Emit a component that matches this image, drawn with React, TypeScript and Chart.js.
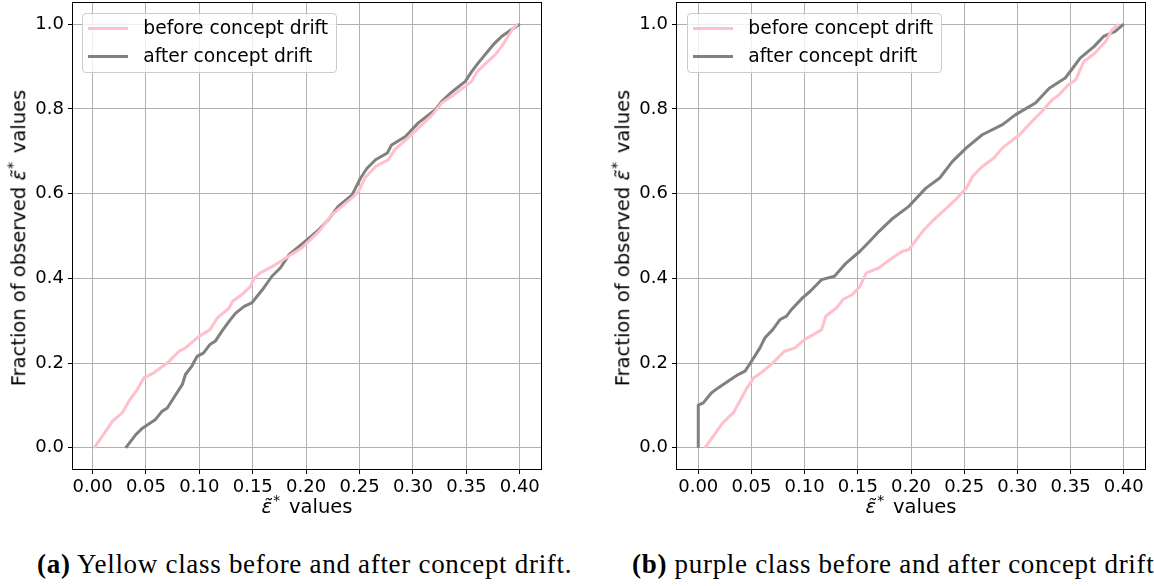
import React, { useEffect, useRef } from "react";
import { Chart, registerables } from "chart.js";

Chart.register(...registerables);

// ---------- data ----------
const xTickValues = [0, 0.05, 0.1, 0.15, 0.2, 0.25, 0.3, 0.35, 0.4];
const yTickValues = [0, 0.2, 0.4, 0.6, 0.8, 1.0];
const legendLabels = ["before concept drift", "after concept drift"];
const captionTags = ["(a)", "(b)"];
const captionTexts = [
  " Yellow class before and after concept drift.",
  " purple class before and after concept drift.",
];

// (a) yellow class
const yellowBeforeX = [0.0016, 0.0187, 0.028, 0.034, 0.042, 0.048, 0.056, 0.07, 0.081, 0.087, 0.0996, 0.11, 0.117, 0.128, 0.131, 0.14, 0.148, 0.151, 0.157, 0.171, 0.181, 0.196, 0.212, 0.224, 0.243, 0.249, 0.255, 0.265, 0.277, 0.283, 0.297, 0.318, 0.327, 0.336, 0.355, 0.36, 0.377, 0.383, 0.394, 0.398];
const yellowBeforeY = [0, 0.063, 0.083, 0.11, 0.138, 0.165, 0.175, 0.2, 0.228, 0.236, 0.263, 0.279, 0.307, 0.33, 0.346, 0.362, 0.381, 0.399, 0.413, 0.432, 0.448, 0.472, 0.511, 0.55, 0.59, 0.605, 0.637, 0.664, 0.68, 0.704, 0.735, 0.786, 0.814, 0.829, 0.865, 0.888, 0.928, 0.947, 0.991, 1.0];
const yellowAfterX = [0.031, 0.0405, 0.047, 0.059, 0.065, 0.07, 0.078, 0.084, 0.087, 0.093, 0.098, 0.104, 0.11, 0.115, 0.121, 0.128, 0.134, 0.142, 0.149, 0.159, 0.168, 0.176, 0.184, 0.199, 0.212, 0.221, 0.23, 0.243, 0.251, 0.257, 0.265, 0.276, 0.28, 0.293, 0.305, 0.321, 0.327, 0.335, 0.349, 0.355, 0.361, 0.375, 0.383, 0.392, 0.4];
const yellowAfterY = [0, 0.031, 0.047, 0.067, 0.086, 0.094, 0.126, 0.149, 0.173, 0.193, 0.216, 0.224, 0.244, 0.252, 0.275, 0.299, 0.318, 0.334, 0.342, 0.373, 0.405, 0.425, 0.456, 0.487, 0.515, 0.539, 0.57, 0.597, 0.637, 0.66, 0.68, 0.696, 0.715, 0.735, 0.767, 0.798, 0.818, 0.837, 0.865, 0.888, 0.908, 0.951, 0.971, 0.987, 1.0];

// (b) purple class
const purpleBeforeX = [0.00625, 0.023, 0.033, 0.039, 0.045, 0.052, 0.059, 0.07, 0.081, 0.091, 0.1, 0.108, 0.116, 0.12, 0.13, 0.136, 0.145, 0.152, 0.158, 0.17, 0.18, 0.192, 0.198, 0.211, 0.22, 0.23, 0.242, 0.252, 0.258, 0.267, 0.278, 0.286, 0.302, 0.311, 0.323, 0.333, 0.339, 0.348, 0.355, 0.3625, 0.373, 0.383, 0.389, 0.395];
const purpleBeforeY = [0, 0.059, 0.083, 0.11, 0.138, 0.165, 0.177, 0.2, 0.228, 0.236, 0.256, 0.267, 0.279, 0.311, 0.33, 0.35, 0.362, 0.381, 0.413, 0.425, 0.444, 0.464, 0.468, 0.511, 0.535, 0.558, 0.586, 0.613, 0.641, 0.664, 0.684, 0.708, 0.739, 0.763, 0.794, 0.822, 0.833, 0.857, 0.869, 0.912, 0.932, 0.959, 0.987, 1.0];
const purpleAfterX = [0, 0, 0.0047, 0.0125, 0.019, 0.028, 0.0375, 0.044, 0.05, 0.058, 0.0625, 0.07, 0.077, 0.083, 0.0875, 0.098, 0.105, 0.116, 0.128, 0.139, 0.152, 0.161, 0.17, 0.183, 0.198, 0.214, 0.227, 0.239, 0.252, 0.267, 0.286, 0.298, 0.317, 0.33, 0.345, 0.352, 0.359, 0.372, 0.381, 0.392, 0.4];
const purpleAfterY = [0, 0.1006, 0.106, 0.13, 0.142, 0.157, 0.173, 0.181, 0.204, 0.236, 0.259, 0.279, 0.303, 0.311, 0.326, 0.354, 0.369, 0.397, 0.405, 0.436, 0.464, 0.487, 0.511, 0.542, 0.57, 0.613, 0.637, 0.676, 0.708, 0.739, 0.763, 0.786, 0.814, 0.849, 0.873, 0.896, 0.92, 0.947, 0.971, 0.983, 1.0];

// ---------- styling ----------
const PINK = "#ffc0cb";
const GRAY = "#808080";
const SANS = "'DejaVu Sans', sans-serif";
const SERIF = "'Liberation Serif', serif";
const CANVAS_W = 577;
const CANVAS_H = 530;

const toPoints = (xs: number[], ys: number[]) => xs.map((x, i) => ({ x, y: ys[i] }));

const framePlugin = {
  id: "frame",
  afterDraw(chart: any) {
    const { ctx, chartArea: a } = chart;
    ctx.save();
    ctx.strokeStyle = "#000";
    ctx.lineWidth = 1;
    const l = Math.round(a.left) - 0.5;
    const t = Math.round(a.top) - 0.5;
    const r = Math.round(a.right) + 0.5;
    const b = Math.round(a.bottom) + 0.5;
    ctx.strokeRect(l, t, r - l, b - t);
    ctx.restore();
  },
};

type PanelProps = {
  left: number;
  yAxisWidth: number;
  padRight: number;
  xMin: number;
  xMax: number;
  before: { x: number; y: number }[];
  after: { x: number; y: number }[];
};

function Panel({ left, yAxisWidth, padRight, xMin, xMax, before, after }: PanelProps) {
  const ref = useRef<HTMLCanvasElement>(null);
  useEffect(() => {
    if (!ref.current) return;
    const tickFont = { family: SANS, size: 18 };
    const grid = { color: "#b0b0b0", lineWidth: 1, tickColor: "#000", tickLength: 5, tickWidth: 1 };
    const chart = new Chart(ref.current, {
      type: "line",
      data: {
        datasets: [
          { label: legendLabels[0], data: before, borderColor: PINK, backgroundColor: PINK, borderWidth: 3, pointRadius: 0, tension: 0, fill: false, borderJoinStyle: "round" },
          { label: legendLabels[1], data: after, borderColor: GRAY, backgroundColor: GRAY, borderWidth: 3, pointRadius: 0, tension: 0, fill: false, borderJoinStyle: "round" },
        ],
      },
      options: {
        animation: false,
        responsive: false,
        events: [],
        layout: { padding: { left: 0, top: 3, right: padRight, bottom: 0 } },
        plugins: { legend: { display: false }, tooltip: { enabled: false }, title: { display: false } },
        scales: {
          x: {
            type: "linear",
            min: xMin,
            max: xMax,
            afterBuildTicks: (s: any) => {
              s.ticks = xTickValues.map((v) => ({ value: v }));
            },
            afterFit: (s: any) => {
              s.height = CANVAS_H - 469;
              s.paddingLeft = 0;
              s.paddingRight = 0;
            },
            ticks: { callback: (v: any) => Number(v).toFixed(2), font: tickFont, color: "#000", padding: 3, autoSkip: false, maxRotation: 0, minRotation: 0 },
            grid,
            border: { display: false },
          },
          y: {
            type: "linear",
            min: -0.05,
            max: 1.05,
            afterBuildTicks: (s: any) => {
              s.ticks = yTickValues.map((v) => ({ value: v }));
            },
            afterFit: (s: any) => {
              s.width = yAxisWidth;
              s.paddingTop = 0;
              s.paddingBottom = 0;
            },
            ticks: { callback: (v: any) => Number(v).toFixed(1), font: tickFont, color: "#000", padding: 4 },
            grid,
            border: { display: false },
          },
        },
      } as any,
      plugins: [framePlugin],
    });
    return () => chart.destroy();
  }, []);
  return (
    <canvas
      ref={ref}
      width={CANVAS_W}
      height={CANVAS_H}
      style={{ position: "absolute", left, top: 0, width: CANVAS_W, height: CANVAS_H }}
    />
  );
}

function Legend({ left }: { left: number }) {
  const colors = [PINK, GRAY];
  return (
    <div
      style={{
        position: "absolute",
        left,
        top: 13,
        width: 255,
        height: 60,
        boxSizing: "border-box",
        border: "1px solid #cccccc",
        borderRadius: 4,
        background: "rgba(255,255,255,0.8)",
        fontFamily: SANS,
        fontSize: 18.7,
        color: "#000",
      }}
    >
      {legendLabels.map((lab, i) => (
        <React.Fragment key={lab}>
          <div style={{ position: "absolute", left: 5.3, top: 12.8 + i * 27.7, width: 40, height: 3, background: colors[i] }} />
          <div style={{ position: "absolute", left: 60.3, top: 5.2 + i * 27.7, whiteSpace: "nowrap", lineHeight: 1 }}>{lab}</div>
        </React.Fragment>
      ))}
    </div>
  );
}

const Eps = () => (
  <>
    <span style={{ fontStyle: "italic" }}>{"\u03B5\u0303"}</span>
    <span style={{ fontSize: "0.7em", position: "relative", top: "-0.6em", marginLeft: 1 }}>*</span>
  </>
);

function YTitle({ cx }: { cx: number }) {
  return (
    <div
      style={{
        position: "absolute",
        left: cx,
        top: 238,
        transform: "translate(-50%, -50%) rotate(-90deg)",
        whiteSpace: "nowrap",
        fontFamily: SANS,
        fontSize: 19.5,
        lineHeight: 1,
        color: "#000",
      }}
    >
      Fraction of observed <Eps />
      <span style={{ marginLeft: 9 }}>values</span>
    </div>
  );
}

function XTitle({ cx }: { cx: number }) {
  return (
    <div
      style={{
        position: "absolute",
        left: cx,
        top: 507,
        transform: "translate(-50%, -50%)",
        whiteSpace: "nowrap",
        fontFamily: SANS,
        fontSize: 19.5,
        lineHeight: 1,
        color: "#000",
      }}
    >
      <Eps />
      <span style={{ marginLeft: 9 }}>values</span>
    </div>
  );
}

function Caption({ left, i }: { left: number; i: number }) {
  return (
    <div
      style={{
        position: "absolute",
        left,
        top: 550.5,
        whiteSpace: "nowrap",
        fontFamily: SERIF,
        fontSize: 27,
        lineHeight: 1,
        letterSpacing: 0.7,
        color: "#000",
      }}
    >
      <b>{captionTags[i]}</b>
      {captionTexts[i]}
    </div>
  );
}

export default function App() {
  return (
    <div
      style={{
        position: "fixed",
        left: 0,
        top: 0,
        width: 1154,
        height: 586,
        overflow: "hidden",
        background: "#fff",
      }}
    >
      <Panel
        left={0}
        yAxisWidth={73}
        padRight={CANVAS_W - 541}
        xMin={-0.0183}
        xMax={0.4199}
        before={toPoints(yellowBeforeX, yellowBeforeY)}
        after={toPoints(yellowAfterX, yellowAfterY)}
      />
      <Panel
        left={577}
        yAxisWidth={677 - 577}
        padRight={1154 - 1145}
        xMin={-0.02}
        xMax={0.42}
        before={toPoints(purpleBeforeX, purpleBeforeY)}
        after={toPoints(purpleAfterX, purpleAfterY)}
      />
      <Legend left={82} />
      <Legend left={687} />
      <YTitle cx={18.5} />
      <YTitle cx={623} />
      <XTitle cx={307} />
      <XTitle cx={911} />
      <Caption left={37} i={0} />
      <Caption left={632} i={1} />
    </div>
  );
}
